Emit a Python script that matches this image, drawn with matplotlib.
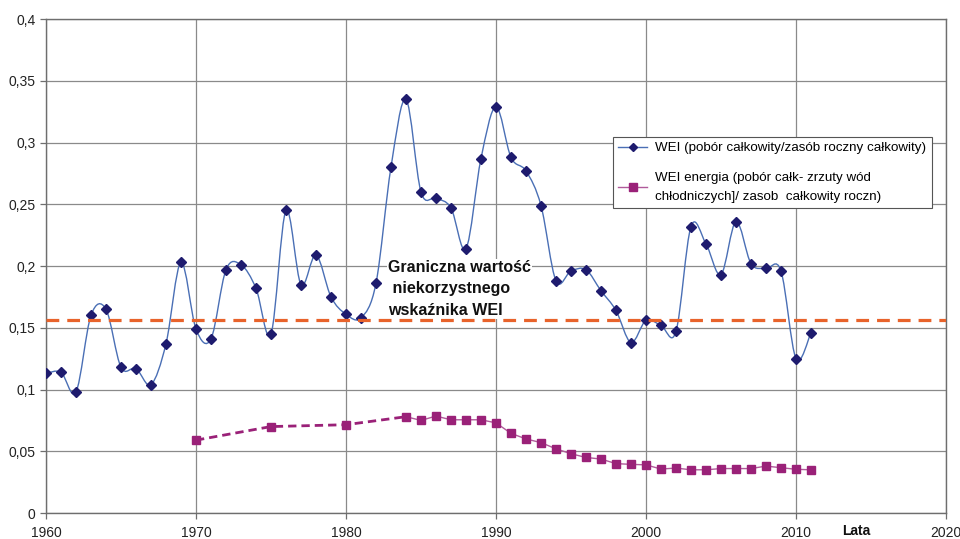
import matplotlib
matplotlib.use("Agg")
import matplotlib.pyplot as plt
import numpy as np
from matplotlib.path import Path
from matplotlib.patches import PathPatch
from matplotlib.lines import Line2D

plt.rcParams["font.family"] = ["Liberation Sans", "DejaVu Sans"]

# WEI (total abstraction / total annual resource)
wei_years = list(range(1960, 2012))
wei_values = [
    0.113, 0.114, 0.098, 0.160, 0.165, 0.118, 0.117, 0.104, 0.137, 0.203,
    0.149, 0.141, 0.197, 0.201, 0.182, 0.145, 0.245, 0.185, 0.209, 0.175,
    0.161, 0.158, 0.186, 0.280, 0.335, 0.260, 0.255, 0.247, 0.214, 0.287,
    0.329, 0.288, 0.277, 0.249, 0.188, 0.196, 0.197, 0.180, 0.164, 0.138,
    0.156, 0.152, 0.147, 0.232, 0.218, 0.193, 0.236, 0.202, 0.198, 0.196,
    0.125, 0.146,
]

# WEI energy
energy_years = [1970, 1975, 1980] + list(range(1984, 2012))
energy_values = [
    0.059, 0.070, 0.0715,
    0.078, 0.075, 0.0785, 0.0755, 0.0755, 0.0755, 0.073,
    0.0645, 0.060, 0.057, 0.052, 0.048, 0.045, 0.0437, 0.040, 0.0394,
    0.039, 0.0356, 0.0364, 0.035, 0.035, 0.036, 0.036, 0.036, 0.038,
    0.0367, 0.0354, 0.035,
]

threshold = 0.156

x_ticks = [1960, 1970, 1980, 1990, 2000, 2010, 2020]
y_ticks = [0, 0.05, 0.1, 0.15, 0.2, 0.25, 0.3, 0.35, 0.4]
y_tick_labels = ["0", "0,05", "0,1", "0,15", "0,2", "0,25", "0,3", "0,35", "0,4"]

label_wei = "WEI (pobór całkowity/zasób roczny całkowity)"
label_energy = "WEI energia (pobór całk- zrzuty wód\nchłodniczych]/ zasob  całkowity roczn)"
note = "Graniczna wartość\n niekorzystnego\nwskaźnika WEI"

blue_line = "#4A6FB5"
navy = "#1E1B6E"
purple = "#9A2178"
pink_line = "#B05A9A"
orange = "#E8632B"
grid_col = "#8A8A8A"


def smooth_path(xs, ys):
    # Excel-style smoothed line: cubic Bezier through every point
    pts = np.column_stack([xs, ys]).astype(float)
    n = len(pts)
    verts = [pts[0]]
    codes = [Path.MOVETO]
    for i in range(n - 1):
        p0 = pts[i - 1] if i > 0 else pts[i]
        p1 = pts[i]
        p2 = pts[i + 1]
        p3 = pts[i + 2] if i + 2 < n else pts[i + 1]
        c1 = p1 + (p2 - p0) / 6.0
        c2 = p2 - (p3 - p1) / 6.0
        verts += [c1, c2, p2]
        codes += [Path.CURVE4] * 3
    return Path(verts, codes)


fig = plt.figure(figsize=(9.6, 5.39), dpi=100)
ax = fig.add_axes([0.0479, 0.0482, 0.9375, 0.9165])

ax.set_xlim(1960, 2020)
ax.set_ylim(0, 0.4)
ax.set_xticks(x_ticks)
ax.set_yticks(y_ticks)
ax.set_yticklabels(y_tick_labels)
ax.grid(True, color=grid_col, linewidth=0.9)
ax.set_axisbelow(True)
for s in ax.spines.values():
    s.set_color("#6E6E6E")
    s.set_linewidth(1.0)
ax.tick_params(axis="both", labelsize=10, colors="#6E6E6E", labelcolor="#222222",
               length=4, width=0.9)
ax.tick_params(axis="x", pad=5)

# threshold (drawn above the note's white box)
ax.axhline(threshold, color=orange, linestyle=(0, (4, 2.5)), linewidth=2.3, zorder=6.5)

# WEI smoothed line + markers
patch = PathPatch(smooth_path(wei_years, wei_values), facecolor="none",
                  edgecolor=blue_line, linewidth=1.0, zorder=4)
ax.add_patch(patch)
ax.plot(wei_years, wei_values, linestyle="none", marker="D", markersize=4.6,
        color=navy, zorder=5)

# energy: dashed where data is sparse, solid afterwards
ax.plot(energy_years[:4], energy_values[:4], color=purple, linestyle=(0, (3, 1.8)),
        linewidth=2.0, zorder=4)
ax.plot(energy_years[3:], energy_values[3:], color=pink_line, linewidth=1.0, zorder=4)
ax.plot(energy_years, energy_values, linestyle="none", marker="s", markersize=6.2,
        color=purple, zorder=5)

ax.text(1982.8, 0.1815, note, fontsize=11.5, fontweight="bold", color="#111111",
        ha="left", va="center", linespacing=1.52, zorder=6,
        bbox=dict(facecolor="white", edgecolor="none", pad=1.0))

ax.text(2014, -0.0146, "Lata", fontsize=10, fontweight="bold", ha="center",
        va="center", color="#111111")

handles = [
    Line2D([], [], color=blue_line, linewidth=1.0, marker="D", markersize=4,
           markerfacecolor=navy, markeredgecolor=navy),
    Line2D([], [], color=pink_line, linewidth=1.0, marker="s", markersize=6,
           markerfacecolor=purple, markeredgecolor=purple),
]
leg = ax.legend(handles, [label_wei, label_energy], loc="upper left",
                bbox_to_anchor=(0.63, 0.761), borderaxespad=0, fontsize=9.6,
                frameon=True, fancybox=False, edgecolor="#555555", framealpha=1,
                handlelength=2.2, labelspacing=1.35, borderpad=0.38,
                handletextpad=0.6)
for t in leg.get_texts():
    t.set_linespacing(1.7)
leg.get_frame().set_linewidth(0.8)
leg.set_zorder(7)

fig.savefig("out.png", dpi=100, facecolor="white")
